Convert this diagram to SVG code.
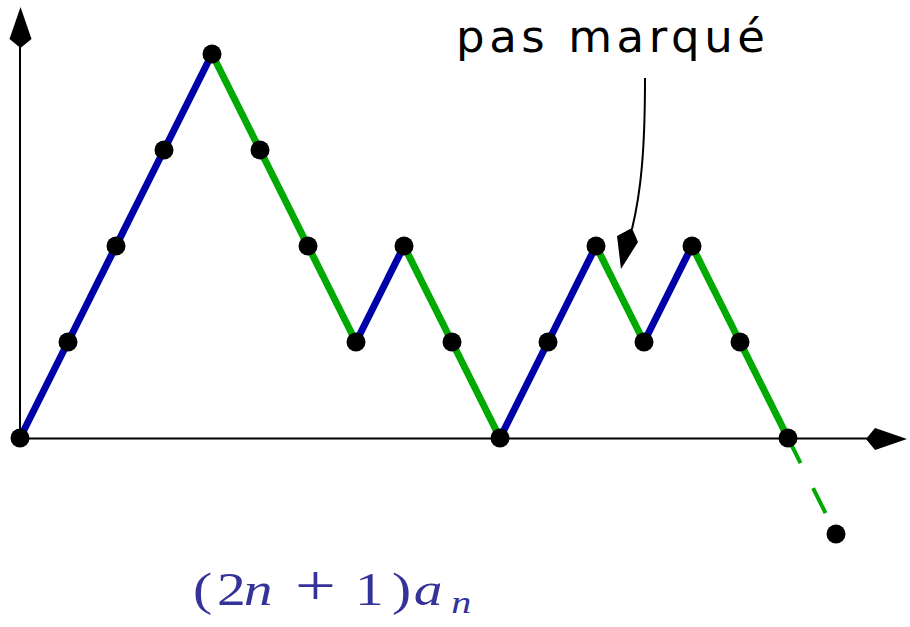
<svg xmlns="http://www.w3.org/2000/svg" width="910" height="627" viewBox="0 0 910 627">
<style>
.axis{stroke:#000;stroke-width:2;fill:none}
.head{fill:#000;stroke:none}
.up{stroke:#0000aa;stroke-width:7;stroke-linecap:butt}
.down{stroke:#00aa00;stroke-width:7;stroke-linecap:butt}
.dash{stroke:#00aa00;stroke-width:4;stroke-dasharray:28 28}
.pt{fill:#000}
.lbl{font-family:"DejaVu Sans","Liberation Sans",sans-serif;font-size:45px;fill:#000}
.math{font-family:"Liberation Serif","DejaVu Serif",serif;font-size:46px;fill:#333399}
.it{font-style:italic}
</style>
<rect width="910" height="627" fill="#fff"/>
<g id="axes">
<line class="axis" x1="20" y1="438" x2="20" y2="40"/>
<polygon class="head" points="20.5,7 31.5,39 20.5,48 9.5,39"/>
<line class="axis" x1="20" y1="438.5" x2="870" y2="438.5"/>
<polygon class="head" points="866,439 875,428 907,439 875,450"/>
</g>
<g id="connectors">
<line class="up" x1="20" y1="438" x2="212" y2="54"/>
<line class="down" x1="212" y1="54" x2="356" y2="342"/>
<line class="up" x1="356" y1="342" x2="404" y2="246"/>
<line class="down" x1="404" y1="246" x2="500" y2="438"/>
<line class="up" x1="500" y1="438" x2="596" y2="246"/>
<line class="down" x1="596" y1="246" x2="644" y2="342"/>
<line class="up" x1="644" y1="342" x2="692" y2="246"/>
<line class="down" x1="692" y1="246" x2="788" y2="438"/>
<line class="dash" x1="788" y1="438" x2="836" y2="534"/>
<path class="axis" d="M645,78 C645,150 641,192 632,229"/>
<polygon class="head" points="621,269 617,236 632,228 638,242"/>
</g>
<g id="points">
<circle class="pt" cx="20" cy="438" r="9.5"/>
<circle class="pt" cx="68" cy="342" r="9.5"/>
<circle class="pt" cx="116" cy="246" r="9.5"/>
<circle class="pt" cx="164" cy="150" r="9.5"/>
<circle class="pt" cx="212" cy="54" r="9.5"/>
<circle class="pt" cx="260" cy="150" r="9.5"/>
<circle class="pt" cx="308" cy="246" r="9.5"/>
<circle class="pt" cx="356" cy="342" r="9.5"/>
<circle class="pt" cx="404" cy="246" r="9.5"/>
<circle class="pt" cx="452" cy="342" r="9.5"/>
<circle class="pt" cx="500" cy="438" r="9.5"/>
<circle class="pt" cx="548" cy="342" r="9.5"/>
<circle class="pt" cx="596" cy="246" r="9.5"/>
<circle class="pt" cx="644" cy="342" r="9.5"/>
<circle class="pt" cx="692" cy="246" r="9.5"/>
<circle class="pt" cx="740" cy="342" r="9.5"/>
<circle class="pt" cx="788" cy="438" r="9.5"/>
<circle class="pt" cx="836" cy="534" r="9.5"/>
</g>
<g id="label-pas-marque">
<text class="lbl" x="456" y="52" textLength="309" lengthAdjust="spacing">pas marqué</text>
</g>
<g id="label-formula">
<text class="math" y="605" transform="scale(1.25,1)"><tspan x="154.4">(</tspan><tspan x="173.6">2</tspan><tspan x="195" class="it">n</tspan><tspan x="236" font-size="58">+</tspan><tspan x="284">1</tspan><tspan x="313.6">)</tspan><tspan x="331" class="it">a</tspan><tspan x="361" y="613" class="it" font-size="32">n</tspan></text>
</g>
</svg>
